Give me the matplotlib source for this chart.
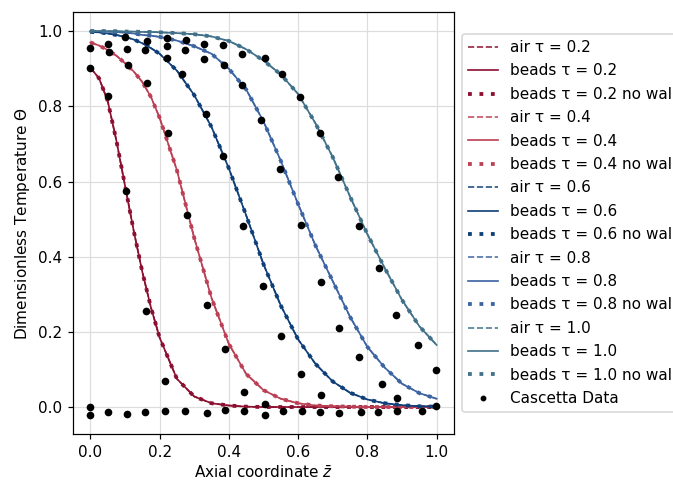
import matplotlib
matplotlib.use("Agg")
import matplotlib.pyplot as plt

# Axial positions at which the model profiles are tabulated
model_z = [0.0, 0.025, 0.05, 0.075, 0.1, 0.125, 0.15, 0.175, 0.2, 0.25, 0.3, 0.35,
           0.4, 0.45, 0.5, 0.55, 0.6, 0.65, 0.7, 0.75, 0.8, 0.85, 0.9, 0.95, 1.0]

# Dimensionless temperature profiles for each dimensionless time
theta_t02 = [0.903, 0.875, 0.815, 0.710, 0.590, 0.470, 0.360, 0.265, 0.185, 0.075, 0.028, 0.010,
             0.004, 0.001, 0.0, 0.0, 0.0, 0.0, 0.0, 0.0, 0.0, 0.0, 0.0, 0.0, 0.0]
theta_t04 = [0.970, 0.962, 0.950, 0.935, 0.915, 0.893, 0.865, 0.825, 0.770, 0.630, 0.450, 0.290,
             0.168, 0.088, 0.045, 0.022, 0.010, 0.004, 0.002, 0.001, 0.0, 0.0, 0.0, 0.0, 0.0]
theta_t06 = [0.998, 0.997, 0.994, 0.990, 0.985, 0.978, 0.968, 0.955, 0.940, 0.895, 0.830, 0.745,
             0.635, 0.510, 0.380, 0.270, 0.180, 0.115, 0.068, 0.038, 0.020, 0.010, 0.005, 0.002, 0.001]
theta_t08 = [1.0, 1.0, 0.999, 0.998, 0.996, 0.994, 0.990, 0.988, 0.985, 0.975, 0.960, 0.940,
             0.900, 0.845, 0.760, 0.655, 0.540, 0.430, 0.335, 0.240, 0.160, 0.105, 0.062, 0.037, 0.022]
theta_t10 = [1.0, 1.0, 1.0, 1.0, 0.999, 0.999, 0.998, 0.998, 0.997, 0.995, 0.992, 0.986,
             0.974, 0.952, 0.922, 0.885, 0.833, 0.755, 0.665, 0.560, 0.460, 0.370, 0.285, 0.215, 0.165]

taus = ["0.2", "0.4", "0.6", "0.8", "1.0"]
colors = ["#8c0f30", "#bc4055", "#0f3f78", "#3d64a2", "#41718a"]

# Cascetta experimental measurements
cas_z_t00 = [0.0, 0.0, 0.05, 0.106, 0.159, 0.217, 0.273, 0.338, 0.388, 0.445, 0.503, 0.556,
             0.611, 0.663, 0.718, 0.782, 0.832, 0.886, 0.958, 0.999]
cas_th_t00 = [-0.001, -0.021, -0.014, -0.019, -0.014, -0.010, -0.011, -0.017, -0.008, -0.011, -0.021,
              -0.010, -0.010, -0.012, -0.017, -0.012, -0.012, -0.011, -0.011, 0.003]
cas_z_t02 = [0.0, 0.05, 0.103, 0.161, 0.215]
cas_th_t02 = [0.903, 0.827, 0.574, 0.256, 0.068]
cas_z_t04 = [0.0, 0.055, 0.108, 0.164, 0.225, 0.280, 0.338, 0.388, 0.445, 0.503]
cas_th_t04 = [0.955, 0.946, 0.910, 0.863, 0.728, 0.512, 0.272, 0.154, 0.041, 0.008]
cas_z_t06 = [0.05, 0.106, 0.159, 0.222, 0.265, 0.333, 0.382, 0.440, 0.498, 0.551, 0.609, 0.666]
cas_th_t06 = [0.967, 0.952, 0.949, 0.930, 0.885, 0.780, 0.669, 0.483, 0.323, 0.188, 0.088, 0.032]
cas_z_t08 = [0.10, 0.164, 0.222, 0.273, 0.328, 0.387, 0.438, 0.493, 0.547, 0.607, 0.665, 0.718,
             0.777, 0.842, 0.886]
cas_th_t08 = [0.985, 0.973, 0.961, 0.949, 0.927, 0.909, 0.857, 0.763, 0.634, 0.485, 0.334, 0.210,
              0.132, 0.061, 0.023]
cas_z_t10 = [0.222, 0.275, 0.328, 0.382, 0.438, 0.503, 0.554, 0.605, 0.663, 0.716, 0.777, 0.834,
             0.883, 0.946, 0.997]
cas_th_t10 = [0.981, 0.976, 0.967, 0.964, 0.940, 0.930, 0.887, 0.825, 0.728, 0.611, 0.481, 0.370,
              0.245, 0.165, 0.099]

profiles = [theta_t02, theta_t04, theta_t06, theta_t08, theta_t10]

DPI = 110
fig = plt.figure(figsize=(673 / DPI, 481 / DPI), dpi=DPI)
ax = fig.add_axes([0.1085, 0.0975, 0.566, 0.8775])

for tau, col, th in zip(taus, colors, profiles):
    ax.plot(model_z, th, linestyle="--", color=col, lw=1.1, alpha=0.9, label=f"air τ = {tau}")
    ax.plot(model_z, th, linestyle="-", color=col, lw=1.1, label=f"beads τ = {tau}")
    ax.plot(model_z, th, linestyle=(0, (1, 2)), color=col, lw=2.5, label=f"beads τ = {tau} no wall")

cas_z = cas_z_t00 + cas_z_t02 + cas_z_t04 + cas_z_t06 + cas_z_t08 + cas_z_t10
cas_th = cas_th_t00 + cas_th_t02 + cas_th_t04 + cas_th_t06 + cas_th_t08 + cas_th_t10
ax.plot(cas_z, cas_th, linestyle="none", marker="o", ms=4, color="black", label="Cascetta Data")

ax.set_xticks([0.0, 0.2, 0.4, 0.6, 0.8, 1.0])
ax.set_yticks([0.0, 0.2, 0.4, 0.6, 0.8, 1.0])
ax.grid(True, color="#dddddd", lw=0.8)
ax.set_axisbelow(True)
ax.set_xlabel(r"Axial coordinate $\bar{z}$", labelpad=3)
ax.set_ylabel(r"Dimensionless Temperature $\Theta$")

ax.legend(loc="center left", bbox_to_anchor=(1.0, 0.5), markerscale=0.7, labelspacing=0.55)

fig.savefig("out.png", dpi=DPI)
